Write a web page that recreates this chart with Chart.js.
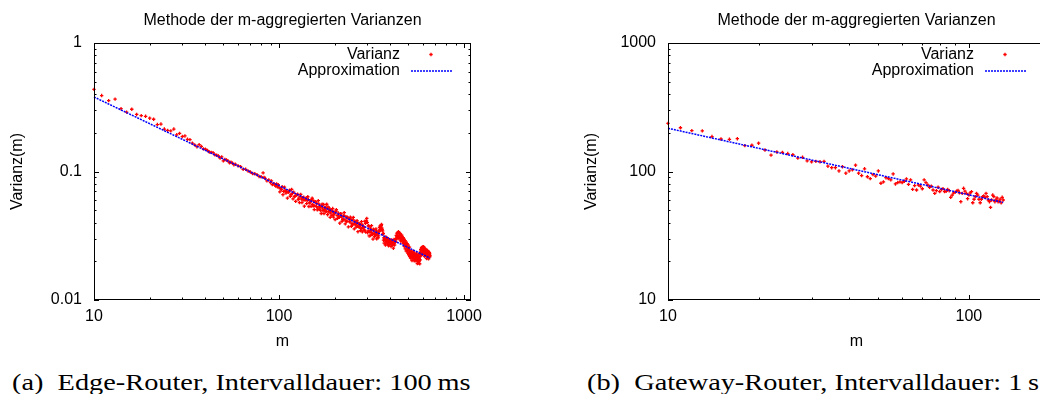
<!DOCTYPE html>
<html>
<head>
<meta charset="utf-8">
<script src="https://cdn.jsdelivr.net/npm/chart.js@4.4.1/dist/chart.umd.min.js"></script>
<style>
  html, body { margin: 0; overflow: hidden; }
  body { width: 1040px; height: 394px; background: #fff; position: relative; }
  .plot { position: absolute; top: 0; width: 520px; height: 360px; }
  .caption {
    position: absolute; top: 370px;
    font-family: "Liberation Serif", "Times New Roman", serif;
    font-size: 24px; line-height: 24px; white-space: nowrap;
    transform-origin: 0 0; color: #000;
  }
  .caption .tag { margin-right: 6px; }
</style>
</head>
<body>
<div class="plot" style="left:0"><canvas id="edge" width="520" height="360"></canvas></div>
<div class="plot" style="left:574px"><canvas id="gateway" width="520" height="360"></canvas></div>
<div class="caption" id="capA" style="left:12px"><span class="tag">(a)</span> Edge-Router, Intervalldauer: 100&thinsp;ms</div>
<div class="caption" id="capB" style="left:587px"><span class="tag">(b)</span> Gateway-Router, Intervalldauer: 1&thinsp;s</div>
<script>
const fontFamily = '"Liberation Sans", Arial, Helvetica, sans-serif';
const chartTitle = "Methode der m-aggregierten Varianzen";

// (a) Edge-Router, 100 ms
const edgeM = [
  10, 11, 12, 13, 14, 15, 16, 17, 18, 19, 20, 21, 22, 23, 24, 25, 26, 27, 28, 29,
  30, 31, 32, 33, 34, 35, 36, 37, 38, 39, 40, 41, 42, 43, 44, 45, 46, 47, 48, 49,
  50, 51, 52, 53, 54, 55, 56, 57, 58, 60, 62, 64, 66, 68, 70, 72, 74, 76, 78, 80,
  82, 83, 84, 86, 88, 90, 91, 92, 94, 95, 96, 97, 98, 99, 100,
  102, 104, 106, 108, 110, 112, 114, 116, 118, 120, 122, 124, 126, 128, 130, 132,
  134, 136, 138, 140, 142, 144, 146, 148,
  150, 152, 154, 156, 158, 160, 162, 164, 166, 168, 170, 172, 174, 176, 178, 180,
  182, 184, 186, 188, 190, 192, 194, 196, 198, 200,
  203, 206, 209, 212, 215, 218, 221, 224, 227, 230, 233, 236, 239, 242, 245, 248,
  251, 254, 257, 260, 263, 266, 269, 272, 275, 278, 281, 284, 287, 290, 293, 296,
  298, 300,
  303, 306, 309, 312, 315, 318, 321, 324, 327, 330, 333, 336, 339, 342, 345, 348,
  351, 354, 357, 360, 363, 366, 369, 372, 375, 378, 381, 384, 387, 390, 393, 396, 399,
  402, 405, 408, 411, 414, 417, 420, 423, 426, 429, 432, 435, 438, 441, 444, 447,
  450, 453, 456, 459, 462, 465, 468, 471, 474, 477, 480, 483, 486, 489, 492, 495,
  498, 501, 504, 507,
  510, 513, 516, 519, 522, 525, 528, 531, 534, 537, 540, 543, 546, 549, 552, 555,
  558, 561, 564, 567, 570, 573, 576, 579,
  582, 585, 588, 591, 594, 597, 600, 603, 606, 609, 612, 615, 618, 621, 624, 627,
  630, 633, 636, 639, 642, 645, 648, 651, 654,
  101, 103, 105, 107, 109, 111, 113, 115, 117, 119, 121, 123, 125, 127, 129, 131,
  133, 135, 137, 139, 141, 143, 145, 147, 149, 151, 153, 155, 157, 159, 161, 163,
  165, 167, 169, 171, 173, 175, 177, 179, 181, 183, 185, 187, 189, 191, 193, 195, 197, 199,
  201, 204, 207, 210, 213, 216, 219, 222, 225, 228, 231, 234, 237, 240, 243, 246,
  249, 252, 255, 258, 261, 264, 267, 270, 273, 276, 279, 282, 285, 288, 291, 294, 297,
  301, 304, 307, 310, 313, 316, 319, 322, 325, 328, 331, 334, 337, 340, 343, 346,
  349, 352, 355, 358, 361, 364, 367, 370, 373, 376, 379, 382, 385, 388, 391, 394,
  397, 400, 403, 406, 409, 412, 415, 418, 421, 424, 427, 430, 433, 436, 439, 442,
  445, 448, 451, 454, 457, 460, 463, 466, 469, 472, 475, 478, 481, 484, 487, 490,
  493, 496, 499, 502, 505, 508, 511, 514, 517, 520, 523, 526, 529, 532, 535, 538,
  541, 544, 547, 550, 553, 556, 559, 562, 565, 568, 571, 574, 577, 580, 583, 586,
  589, 592, 595, 598, 601, 604, 607, 610, 613, 616, 619, 622, 625, 628, 631, 634,
  637, 640, 643, 646, 649, 652
];
const edgeVarianz = [
  0.436, 0.390, 0.356, 0.366, 0.308, 0.290, 0.305, 0.278, 0.272, 0.269, 0.260, 0.255, 0.232, 0.234, 0.214, 0.209, 0.207, 0.214, 0.193, 0.198,
  0.187, 0.189, 0.178, 0.177, 0.166, 0.161, 0.156, 0.162, 0.157, 0.150, 0.149, 0.146, 0.142, 0.141, 0.140, 0.135, 0.134, 0.132, 0.127, 0.130,
  0.121, 0.124, 0.123, 0.121, 0.117, 0.118, 0.116, 0.113, 0.114, 0.111, 0.109, 0.104, 0.104, 0.101, 0.099, 0.0965, 0.096, 0.0945, 0.0915, 0.091,
  0.0975, 0.090, 0.0885, 0.0845, 0.086, 0.082, 0.0845, 0.079, 0.0805, 0.0785, 0.077, 0.080, 0.076, 0.079, 0.075,
  0.0735, 0.0760, 0.0700, 0.0715, 0.0700, 0.0690, 0.0715, 0.0660, 0.0675, 0.0690, 0.0640, 0.0655, 0.0665, 0.0620, 0.0640, 0.0610,
  0.0625, 0.0630, 0.0600, 0.0620, 0.0595, 0.0605, 0.0570, 0.0590,
  0.0600, 0.0555, 0.0590, 0.0540, 0.0580, 0.0565, 0.0520, 0.0560, 0.0535, 0.0500, 0.0545, 0.0520, 0.0555, 0.0505, 0.0525, 0.0490,
  0.0515, 0.0530, 0.0485, 0.0505, 0.0475, 0.0500, 0.0490, 0.0460, 0.0485, 0.0478,
  0.0490, 0.0455, 0.0475, 0.0440, 0.0470, 0.0445, 0.0425, 0.0455, 0.0420, 0.0445, 0.0410, 0.0435, 0.0430, 0.0405, 0.0425, 0.0395,
  0.0420, 0.0390, 0.0410, 0.0385, 0.0402, 0.0375, 0.0395, 0.0370, 0.0382, 0.0360, 0.0385, 0.0365, 0.0372, 0.0350, 0.0395, 0.0410,
  0.0432, 0.0400,
  0.0345, 0.0375, 0.0340, 0.0362, 0.0335, 0.0350, 0.0325, 0.0355, 0.0330, 0.0338, 0.0318, 0.0345, 0.0320, 0.0330, 0.0315, 0.0340,
  0.0355, 0.0370, 0.0380, 0.0362, 0.0345, 0.0330, 0.0305, 0.0300, 0.0290, 0.0310, 0.0285, 0.0295, 0.0280, 0.0300, 0.0282, 0.0290, 0.0288,
  0.0280, 0.0292, 0.0275, 0.0288, 0.0272, 0.0290, 0.0280, 0.0295, 0.0285, 0.0300, 0.0310, 0.0330, 0.0315, 0.0335, 0.0305, 0.0320,
  0.0328, 0.0300, 0.0315, 0.0290, 0.0312, 0.0295, 0.0305, 0.0280, 0.0298, 0.0275, 0.0290, 0.0268, 0.0282, 0.0262, 0.0275, 0.0255,
  0.0268, 0.0250, 0.0245, 0.0258,
  0.0235, 0.0228, 0.0240, 0.0222, 0.0232, 0.0215, 0.0226, 0.0240, 0.0218, 0.0230, 0.0212, 0.0225, 0.0208, 0.0222, 0.0232, 0.0210,
  0.0220, 0.0205, 0.0215, 0.0225, 0.0200, 0.0212, 0.0191, 0.0205,
  0.0235, 0.0245, 0.0225, 0.0250, 0.0238, 0.0255, 0.0240, 0.0260, 0.0245, 0.0252, 0.0232, 0.0248, 0.0238, 0.0245, 0.0228, 0.0240,
  0.0222, 0.0235, 0.0228, 0.0238, 0.0220, 0.0232, 0.0225, 0.0230, 0.0222,
  0.0694, 0.0722, 0.0660, 0.0756, 0.0680, 0.0621, 0.0693, 0.0642, 0.0725, 0.0612, 0.0639, 0.0586, 0.0658, 0.0605, 0.0573, 0.0663,
  0.0573, 0.0599, 0.0537, 0.0606, 0.0563, 0.0636, 0.0534, 0.0571, 0.0536, 0.0619, 0.0538, 0.0505, 0.0580, 0.0536, 0.0503, 0.0593,
  0.0505, 0.0529, 0.0471, 0.0557, 0.0495, 0.0470, 0.0528, 0.0488, 0.0556, 0.0461, 0.0488, 0.0519, 0.0440, 0.0492, 0.0454, 0.0515, 0.0442, 0.0469,
  0.0422, 0.0504, 0.0432, 0.0451, 0.0396, 0.0469, 0.0410, 0.0425, 0.0478, 0.0391, 0.0409, 0.0440, 0.0371, 0.0407, 0.0441, 0.0375,
  0.0385, 0.0439, 0.0358, 0.0396, 0.0369, 0.0414, 0.0340, 0.0372, 0.0393, 0.0347, 0.0407, 0.0339, 0.0367, 0.0350, 0.0410, 0.0338, 0.0412,
  0.0334, 0.0379, 0.0315, 0.0345, 0.0318, 0.0379, 0.0325, 0.0298, 0.0351, 0.0311, 0.0323, 0.0358, 0.0299, 0.0327, 0.0305, 0.0343,
  0.0367, 0.0378, 0.0350, 0.0388, 0.0353, 0.0325, 0.0292, 0.0277, 0.0298, 0.0268, 0.0282, 0.0300, 0.0273, 0.0284, 0.0264, 0.0290,
  0.0271, 0.0280, 0.0261, 0.0292, 0.0268, 0.0277, 0.0253, 0.0296, 0.0268, 0.0281, 0.0297, 0.0318, 0.0300, 0.0333, 0.0308, 0.0340,
  0.0300, 0.0319, 0.0330, 0.0288, 0.0308, 0.0320, 0.0289, 0.0301, 0.0276, 0.0294, 0.0261, 0.0280, 0.0250, 0.0272, 0.0240, 0.0260,
  0.0243, 0.0232, 0.0249, 0.0225, 0.0237, 0.0218, 0.0233, 0.0212, 0.0238, 0.0217, 0.0203, 0.0225, 0.0209, 0.0235, 0.0215, 0.0202,
  0.0223, 0.0207, 0.0216, 0.0201, 0.0226, 0.0206, 0.0192, 0.0219, 0.0200, 0.0211, 0.0193, 0.0204, 0.0217, 0.0236, 0.0248, 0.0224,
  0.0255, 0.0238, 0.0259, 0.0226, 0.0248, 0.0260, 0.0233, 0.0250, 0.0218, 0.0239, 0.0250, 0.0224, 0.0241, 0.0210, 0.0231, 0.0243,
  0.0217, 0.0233, 0.0209, 0.0226, 0.0235, 0.0217
];
const edgeFitM = [10, 655];
const edgeFitVarianz = [0.38, 0.0212];
const edgeXLabels = ["10", "100", "1000"];
const edgeYLabels = ["0.01", "0.1", "1"];

// (b) Gateway-Router, 1 s
const gatewayM = [
  10, 11, 12, 13, 14, 15, 16, 17, 18, 19, 20, 21, 22, 23, 24, 25, 26, 27, 28, 29,
  30, 31, 32, 33, 34, 35, 36, 37, 38, 39, 40, 41, 42, 43, 44, 45, 46, 47, 48, 49,
  50, 51, 52, 53, 54, 55, 56, 57, 58, 59, 60, 61, 62, 63, 64, 65, 66, 67, 68, 69,
  70, 71, 72, 73, 74, 75, 76, 77, 78, 79, 80, 81, 82, 83, 84, 85, 86, 87, 88, 89,
  90, 91, 92, 93, 94, 95, 96, 97, 98, 99, 100, 101, 102, 103, 104, 105, 106, 107, 108, 109,
  110, 111, 112, 113, 114, 115, 116, 117, 118, 119, 120, 121, 122, 123, 124, 125, 126, 127, 128, 129, 130
];
const gatewayVarianz = [
  237, 219, 208, 207, 187, 179, 178, 180, 159, 160, 166, 147, 134, 142, 141, 138, 135, 127, 129, 121,
  119, 120, 119, 120, 110, 107, 107, 101, 109, 97, 101, 103, 112, 97, 93, 105, 91, 88, 94.5, 92,
  101, 81, 83, 89.5, 88, 86, 95.7, 80, 82, 83, 82, 84, 87.5, 79.4, 86, 72.6, 77.6, 71.8, 78.5, 77,
  73.4, 86, 82, 78.5, 75.4, 77, 71.8, 67.6, 70.9, 75.4, 69.7, 72.6, 73.4, 69.7, 70.2, 72.6, 70.9, 63, 65.6, 68.3,
  68.8, 70.4, 71.2, 68.3, 58.2, 67.6, 74, 70.4, 67.6, 61.4, 65.6, 68.3, 69.7, 57.1, 60.8, 63.7, 67.6, 65.6, 60.8, 57.1,
  60.8, 63.7, 64.5, 63, 67.6, 63.7, 60, 58.2, 52.6, 60, 65.6, 63.7, 58.2, 60, 62.2, 58.2, 59, 61, 57, 63, 60
];
const gatewayFitM = [10, 130];
const gatewayFitVarianz = [217, 57.5];
const gatewayXLabels = ["10", "100"];
const gatewayYLabels = ["10", "100", "1000"];

function niceTick(v) {
  const e = Math.floor(Math.log10(v) + 1e-9);
  const s = v / Math.pow(10, e);
  return Math.abs(s - Math.round(s)) < 1e-6 ? Math.round(s) : 0;
}

function tickLabel(v, labels) {
  const hit = labels.find((l) => Math.abs(Math.log10(Number(l)) - Math.log10(v)) < 1e-6);
  return hit || "";
}

// gnuplot style border with inward ticks on all four sides
const framePlugin = {
  id: "frame",
  afterDatasetsDraw(chart) {
    const { ctx, chartArea: a, scales } = chart;
    ctx.save();
    ctx.strokeStyle = "#000";
    ctx.lineWidth = 1;
    ctx.beginPath();
    scales.x.ticks.forEach((t) => {
      const s = niceTick(t.value);
      if (!s) return;
      const len = s === 1 ? 5 : 2.5;
      const px = Math.round(scales.x.getPixelForValue(t.value)) + 0.5;
      ctx.moveTo(px, a.bottom);
      ctx.lineTo(px, a.bottom - len);
      ctx.moveTo(px, a.top);
      ctx.lineTo(px, a.top + len);
    });
    scales.y.ticks.forEach((t) => {
      const s = niceTick(t.value);
      if (!s) return;
      const len = s === 1 ? 5 : 2.5;
      const py = Math.round(scales.y.getPixelForValue(t.value)) + 0.5;
      ctx.moveTo(a.left, py);
      ctx.lineTo(a.left + len, py);
      ctx.moveTo(a.right, py);
      ctx.lineTo(a.right - len, py);
    });
    ctx.stroke();
    ctx.strokeRect(a.left + 0.5, a.top + 0.5, a.right - a.left - 1, a.bottom - a.top - 1);
    ctx.restore();
  },
};

// key in the upper right corner: text right aligned, sample to its right
const keyPlugin = {
  id: "key",
  afterDraw(chart) {
    const { ctx, chartArea: a } = chart;
    ctx.save();
    ctx.font = "16px " + fontFamily;
    ctx.textAlign = "right";
    ctx.textBaseline = "middle";
    chart.data.datasets.forEach((ds, i) => {
      const y = a.top + 11.5 + i * 16.5;
      ctx.fillStyle = "#000";
      ctx.fillText(ds.label, a.left + 306, y);
      if (ds.showLine) {
        ctx.strokeStyle = ds.borderColor;
        ctx.lineWidth = ds.borderWidth;
        ctx.setLineDash(ds.borderDash);
        ctx.beginPath();
        ctx.moveTo(a.left + 317, y);
        ctx.lineTo(a.left + 358, y);
        ctx.stroke();
        ctx.setLineDash([]);
      } else {
        ctx.strokeStyle = ds.borderColor;
        ctx.lineWidth = ds.pointBorderWidth;
        ctx.beginPath();
        ctx.moveTo(a.left + 337 - ds.pointRadius, y);
        ctx.lineTo(a.left + 337 + ds.pointRadius, y);
        ctx.moveTo(a.left + 337, y - ds.pointRadius);
        ctx.lineTo(a.left + 337, y + ds.pointRadius);
        ctx.stroke();
      }
    });
    ctx.restore();
  },
};

function makeChart(id, m, values, fitM, fitValues, xMax, yMin, yMax, xLabels, yLabels) {
  const font = { family: fontFamily, size: 16, weight: "normal" };
  new Chart(document.getElementById(id), {
    type: "scatter",
    data: {
      datasets: [
        {
          label: "Varianz",
          data: m.map((x, i) => ({ x: x, y: values[i] })),
          pointStyle: "cross",
          pointRadius: 1.7,
          pointBorderWidth: 1.3,
          borderColor: "#ff0000",
          backgroundColor: "#ff0000",
          showLine: false,
          order: 2,
          clip: false,
        },
        {
          label: "Approximation",
          data: fitM.map((x, i) => ({ x: x, y: fitValues[i] })),
          showLine: true,
          pointRadius: 0,
          borderColor: "#0000ff",
          borderWidth: 1.5,
          borderDash: [2, 1],
          order: 1,
          clip: false,
        },
      ],
    },
    options: {
      responsive: false,
      animation: false,
      devicePixelRatio: 1,
      layout: { padding: { left: 0, right: 49, top: 0, bottom: 0 } },
      plugins: {
        legend: { display: false },
        tooltip: { enabled: false },
        title: {
          display: true,
          text: chartTitle,
          fullSize: false,
          color: "#000",
          font: font,
          padding: { top: 11, bottom: 12.8 },
        },
      },
      scales: {
        x: {
          type: "logarithmic",
          min: 10,
          max: xMax,
          grid: { display: false, drawTicks: false },
          border: { display: false },
          ticks: {
            autoSkip: false,
            maxRotation: 0,
            padding: 7,
            color: "#000",
            font: font,
            callback: (v) => tickLabel(v, xLabels),
          },
          title: { display: true, text: "m", color: "#000", font: font, padding: { top: 0, bottom: 8.4 } },
          afterFit: (s) => { s.height = 60; },
        },
        y: {
          type: "logarithmic",
          min: yMin,
          max: yMax,
          grid: { display: false, drawTicks: false },
          border: { display: false },
          ticks: {
            autoSkip: false,
            padding: 12,
            color: "#000",
            font: font,
            callback: (v) => tickLabel(v, yLabels),
          },
          title: { display: true, text: "Varianz(m)", color: "#000", font: font, padding: { top: 8.4, bottom: 0 } },
          afterFit: (s) => { s.width = 94; },
        },
      },
    },
    plugins: [framePlugin, keyPlugin],
  });
}

makeChart("edge", edgeM, edgeVarianz, edgeFitM, edgeFitVarianz, 1090, 0.01, 1, edgeXLabels, edgeYLabels);
makeChart("gateway", gatewayM, gatewayVarianz, gatewayFitM, gatewayFitVarianz, 179, 10, 1000, gatewayXLabels, gatewayYLabels);

// stretch the serif captions to the width they have in the document
const capA = document.getElementById("capA");
const capB = document.getElementById("capB");
const k = 458 / capA.scrollWidth;
capA.style.transform = "scaleX(" + k + ")";
capB.style.transform = "scaleX(" + k + ")";
</script>
</body>
</html>
